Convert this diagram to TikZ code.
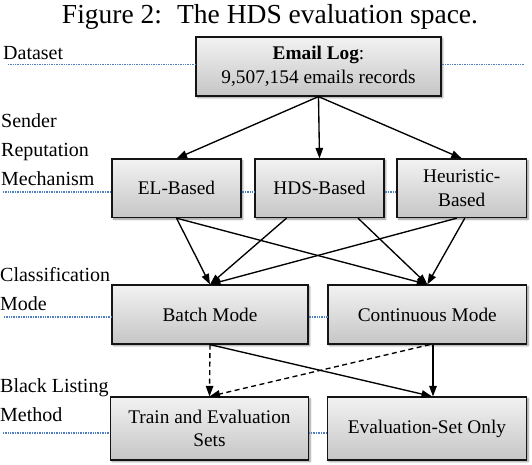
\documentclass[tikz,border=0pt]{standalone}
\usepackage{fontspec}
\setmainfont{Liberation Serif}
\usetikzlibrary{arrows.meta,shadows.blur}
\definecolor{dotblue}{HTML}{4F7FC2}
\tikzset{
  box/.style={draw=black!92, line width=1.2pt, top color=gray!10, bottom color=gray!45,
    blur shadow={shadow xshift=1.6pt, shadow yshift=-1.6pt, shadow blur steps=6, shadow opacity=45},
    inner sep=0pt, align=center, font=\fontsize{19.3}{23.5}\selectfont},
  lbl/.style={anchor=base west, inner sep=0pt, font=\fontsize{20}{29}\selectfont},
  guide/.style={dotblue, line width=1.1pt, dash pattern=on 1pt off 0.7pt},
  conn/.style={line width=1.35pt, -{Triangle[length=10.5pt,width=7.5pt]}},
  dconn/.style={conn, dash pattern=on 5pt off 3.5pt}
}
\begin{document}
\begin{tikzpicture}[x=1pt,y=-1pt]
\useasboundingbox (0,0) rectangle (532,464);
% title
\node[anchor=base, inner sep=0pt, font=\fontsize{27.5}{30}\selectfont] (title) at (270,23)
  {Figure 2:\hspace{0.55em}The HDS evaluation space.};
% boxes
\node[box, minimum width=245pt, minimum height=59pt] (email) at (318.5,66.5)
  {\textbf{Email Log}:\\9,507,154 emails records};
\node[box, minimum width=129pt, minimum height=58.5pt] (el) at (176.5,188.3) {EL-Based};
\node[box, minimum width=129pt, minimum height=58.5pt] (hds) at (319.5,188.3) {HDS-Based};
\node[box, minimum width=129.5pt, minimum height=58.5pt] (heu) at (461.8,188.3) {Heuristic-\\Based};
\node[box, minimum width=196pt, minimum height=59pt] (batch) at (210,314.5) {Batch Mode};
\node[box, minimum width=198.5pt, minimum height=59pt] (cont) at (427.3,314.5) {Continuous Mode};
\node[box, minimum width=198pt, minimum height=63pt] (train) at (209.5,428.5) {Train and Evaluation\\Sets};
\node[box, minimum width=199pt, minimum height=63pt] (eval) at (427,428.5) {Evaluation-Set Only};
% labels
\node[lbl] (ldata) at (3,59.5) {Dataset};
\node[lbl] (lsend) at (1,127) {\vtop{\hbox{Sender}\hbox{Reputation}\hbox{Mechanism}}};
\node[lbl] (lclass) at (0,281) {\vtop{\hbox{Classification}\hbox{Mode}}};
\node[lbl] (lblack) at (0,392) {\vtop{\hbox{Black Listing}\hbox{Method}}};
% guides
\coordinate (g1) at (8,64.5);
\coordinate (g1r) at (524,64.5);
\draw[guide] (g1) -- (g1 -| email.west);
\draw[guide] (g1 -| email.east) -- (g1r);
\coordinate (g2) at (3,192);
\draw[guide] (g2) -- (g2 -| el.west);
\draw[guide] (g2 -| el.east) -- (g2 -| hds.west);
\draw[guide] (g2 -| hds.east) -- (g2 -| heu.west);
\coordinate (g3) at (4,317);
\draw[guide] (g3) -- (g3 -| batch.west);
\draw[guide] (g3 -| batch.east) -- (g3 -| cont.west);
\coordinate (g4) at (3,433);
\draw[guide] (g4) -- (g4 -| train.west);
\draw[guide] (g4 -| train.east) -- (g4 -| eval.west);
% connectors
\draw[conn] (email.south) -- (el.north);
\draw[conn] (email.south) -- (hds.north);
\draw[conn] (email.south) -- (heu.north);
\draw[conn] (el.south) -- (batch.north);
\draw[conn] (el.south) -- (cont.north);
\draw[conn] ([xshift=-33pt]hds.south) -- (batch.north);
\draw[conn] ([xshift=38.5pt]hds.south) -- (cont.north);
\draw[conn] ([xshift=-5pt]heu.south) -- (batch.north);
\draw[conn] ([xshift=3pt]heu.south) -- (cont.north);
\draw[dconn] (batch.south) -- (train.north);
\draw[conn] (batch.south) -- ([xshift=5pt]eval.north);
\draw[conn] ([xshift=5.7pt]cont.south) -- ([xshift=6pt]eval.north);
\draw[dconn] ([xshift=2.5pt]cont.south) -- (train.north);
\end{tikzpicture}
\end{document}
